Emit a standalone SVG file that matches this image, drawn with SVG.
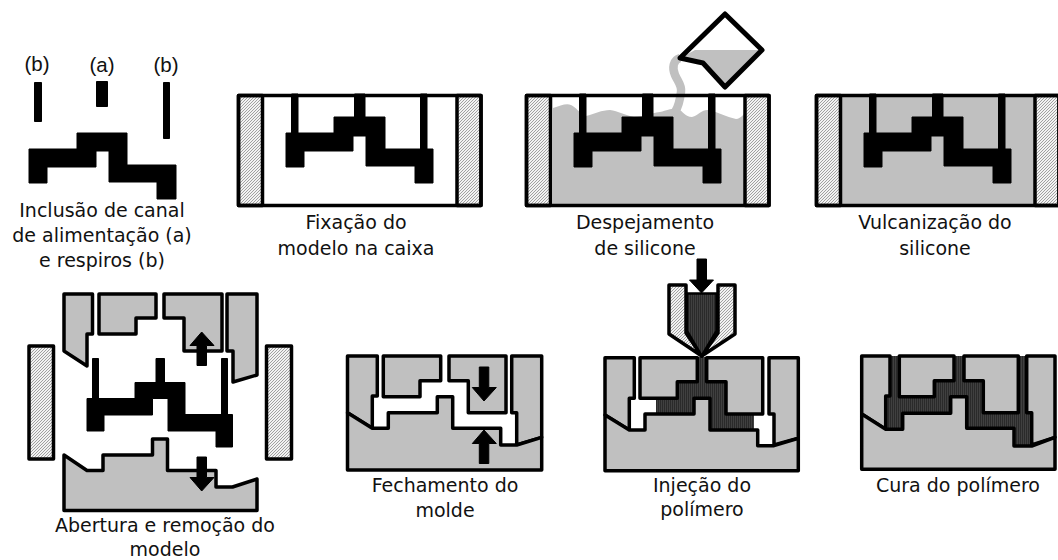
<svg xmlns="http://www.w3.org/2000/svg" xmlns:xlink="http://www.w3.org/1999/xlink" width="1058" height="560" viewBox="0 0 1058 560">
<style>
.t{font-family:"DejaVu Sans",Verdana,sans-serif;font-size:19px;fill:#111;text-anchor:middle}
.l{font-family:"Liberation Sans",Arial,sans-serif;font-size:20.500px;fill:#111;text-anchor:middle}
.k{fill:#000;stroke:#000;stroke-width:1;stroke-linejoin:round}
.g{fill:#c0c0c0;stroke:#000;stroke-width:3.500;stroke-linejoin:round}
.h{fill:url(#hatch);stroke:#000;stroke-width:3.500;stroke-linejoin:round}
.d{fill:url(#dark)}
.a{fill:#000;stroke:#000;stroke-width:1;stroke-linejoin:round}
</style>
<defs>
<pattern id="hatch" width="3" height="3" patternUnits="userSpaceOnUse"><rect width="3" height="3" fill="#f2f2f2"/><path d="M-.5,3.500L3.500,-.5M-.5,.5L.5,-.5M2.500,3.500L3.500,2.500" stroke="#a0a0a0" stroke-width="1"/></pattern>
<pattern id="dark" width="2" height="2" patternUnits="userSpaceOnUse"><rect width="2" height="2" fill="#404040"/><rect width="1" height="2" fill="#2a2a2a"/></pattern>
<g id="model"><path class="k" d="M286,133H334V117H385V149H433V183H415V166H366V136H353V151H304V167H286Z"/><rect class="k" x="291.500" y="94" width="6.500" height="40"/><rect class="k" x="354.500" y="94" width="10.500" height="24"/><rect class="k" x="420.500" y="94" width="6.500" height="56"/></g>
<g id="box"><rect class="h" x="238.500" y="95.500" width="24" height="110"/><rect class="h" x="457" y="95.500" width="24" height="110"/><rect x="238.500" y="95.500" width="242.500" height="110" fill="none" stroke="#000" stroke-width="3.500" stroke-linejoin="round"/></g>
<path id="up" class="a" d="M197,365.500V345.500H190L201.700,332L214,345.500H206.500V365.500Z"/>
<path id="down" class="a" d="M197,457V477.500H190L201.700,491L214,477.500H206.500V457Z"/>
</defs>

<g id="n1">
<text class="l" x="37" y="71">(b)</text><text class="l" x="102" y="72">(a)</text><text class="l" x="166" y="72">(b)</text>
<rect class="k" x="34.500" y="82.500" width="7" height="39"/><rect class="k" x="96.500" y="81.500" width="11" height="25"/><rect class="k" x="163.500" y="82.500" width="6" height="56"/>
<path class="k" d="M29,149H77V133H127V165H176V199H157V182H109V151H96V167H47V183H29Z"/>
<text class="t" x="102" y="217">Inclusão de canal</text><text class="t" x="102" y="242">de alimentação (a)</text><text class="t" x="102" y="267">e respiros (b)</text>
</g>

<g id="n2">
<use xlink:href="#model"/><use xlink:href="#box"/>
<text class="t" x="356" y="229">Fixação do</text><text class="t" x="356" y="255">modelo na caixa</text>
</g>

<g id="n3">
<path fill="#c0c0c0" d="M553,108C560,106 566,103 571,105C576,107 579,113 586,116C594,114 602,110 610,110C618,111 625,115 634,117C644,117 650,113 660,112C668,110 672,108 678,109C683,111 685,117 692,117C699,115 702,109 709,110C718,112 726,117 736,119C741,119 744,113 746,112V205H553Z"/>
<path fill="none" stroke="#c0c0c0" stroke-width="8.500" d="M680,58C673,60 672,68 675,75C678,82 682,85 681,92C680,100 679,106 675,112"/>
<g transform="translate(288,0)"><use xlink:href="#model"/><use xlink:href="#box"/></g>
<path fill="#c0c0c0" d="M695,50H763L725,88L703,63L682,57Z"/>
<path fill="none" stroke="#000" stroke-width="5" stroke-linejoin="round" d="M725,14L762,50L725,87L703,63L680,58Z"/>
<text class="t" x="645" y="229">Despejamento</text><text class="t" x="645" y="255">de silicone</text>
</g>

<g id="n4">
<rect x="815" y="95" width="243" height="111" fill="#c0c0c0"/>
<g transform="translate(578,0)"><use xlink:href="#model"/><use xlink:href="#box"/></g>
<text class="t" x="935" y="229">Vulcanização do</text><text class="t" x="935" y="255">silicone</text>
</g>

<g id="n5">
<path class="g" d="M64,294H92.500V334H87V366L64,351Z"/>
<path class="g" d="M99,294H156V318H136V334H99Z"/>
<path class="g" d="M164,294H222V351H184V318H164Z"/>
<path class="g" d="M227,294H257V375L233,382V351H227Z"/>
<rect class="h" x="29" y="346" width="24.500" height="113"/><rect class="h" x="266.500" y="346" width="25" height="113"/>
<path class="g" d="M64,455L87,470.500H103V455H152.500V439H167.500V470.500H216V487H232.500L257,479V510.500H64Z"/>
<path class="k" d="M87,398.500H135V382.500H185V414.500H232.500V447H216V431H168V398.500H152.500V415H104V431H87Z"/>
<rect class="k" x="92.500" y="358.500" width="6" height="40"/><rect class="k" x="156" y="358.500" width="8.500" height="25"/><rect class="k" x="221.500" y="358.500" width="6" height="56"/>
<use xlink:href="#up"/><use xlink:href="#down"/>
<text class="t" x="165" y="532">Abertura e remoção do</text><text class="t" x="165" y="556">modelo</text>
</g>

<g id="n6">
<path class="g" d="M347.500,356H377.300V396H372.300V428.300L347.500,412.700Z"/>
<path class="g" d="M383.300,356H440.700V380.700H420V396.700H383.300Z"/>
<path class="g" d="M449,356H506V412.700H468.300V380.700H449Z"/>
<path class="g" d="M511.700,356H541.700V437.300L516.700,445V412.700H511.700Z"/>
<path class="g" d="M347.500,412.700L372.300,428.300H388.300V412.700H437.300V396.700H452.700V428.300H500.700V445H516.700L541.700,437.300V470H347.500Z"/>
<use xlink:href="#down" transform="translate(282.300,-90)"/><use xlink:href="#up" transform="translate(282.300,98)"/>
<text class="t" x="445" y="492">Fechamento do</text><text class="t" x="445" y="517">molde</text>
</g>

<g id="n7">
<path class="d" d="M697,357H707V381H726V414H754V431H709V398H695V414H656V398H677V381H697Z"/>
<path class="g" d="M605,357.700H634.300V398.300H629.300V430L605,415Z"/>
<path class="g" d="M640,357.700H697.300V381.700H677.300V398.300H640Z"/>
<path class="g" d="M706.700,357.700H762.700V414H726V381.700H706.700Z"/>
<path class="g" d="M769,357.700H798.300V438.300L774,445V414H769Z"/>
<path class="g" d="M605,415L629.300,430H645V414H694V398.300H710V430H757.700V445.700H774L798.300,438.300V470.700H605Z"/>
<path class="h" d="M669,285H686V333L701.700,356L669,334Z"/>
<path class="h" d="M735,285H718V333L701.700,356L735,334Z"/>
<path class="d" d="M687,293.500H716.500V331L701.700,356L687,331Z" stroke="#000" stroke-width="2.500" stroke-linejoin="round"/>
<path class="a" d="M697,259V280H689.500L701.500,293L713.500,280H706.500V259Z"/>
<text class="t" x="702" y="492">Injeção do</text><text class="t" x="702" y="516">polímero</text>
</g>

<g id="n8">
<rect class="d" x="862" y="356" width="193" height="113"/>
<path class="g" d="M861.700,356H890V396H885.700V429.300L861.700,414Z"/>
<path class="g" d="M899.300,356H954V380.700H934.300V396.700H899.300Z"/>
<path class="g" d="M964,356H1018.300V412.700H983.300V380.700H964Z"/>
<path class="g" d="M1026.700,356H1055V437.300L1031.700,445V412.700H1026.700Z"/>
<path class="g" d="M861.700,414L885.700,429.300H902.700V413.300H950.700V396.700H966.700V428.300H1014V446H1031.700L1055,437.300V469.300H861.700Z"/>
<text class="t" x="958" y="492">Cura do polímero</text>
</g>
<g id="connectors"/>
</svg>
